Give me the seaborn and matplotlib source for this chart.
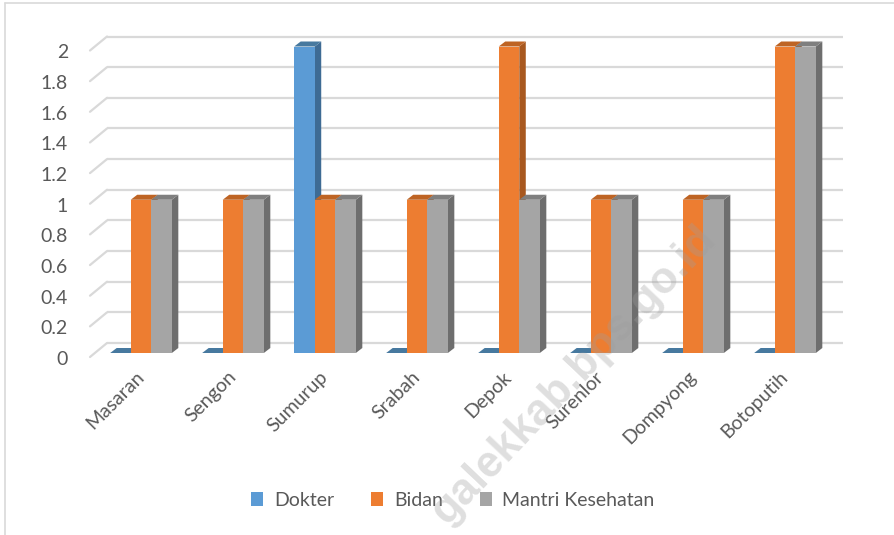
import matplotlib
matplotlib.use("Agg")
import matplotlib.pyplot as plt
import seaborn as sns
import pandas as pd
from matplotlib.transforms import ScaledTranslation, IdentityTransform
from matplotlib.patches import Polygon, Patch
from matplotlib.lines import Line2D

categories = ["Masaran", "Sengon", "Sumurup", "Srabah", "Depok", "Surenlor", "Dompyong", "Botoputih"]
series = ["Dokter", "Bidan", "Mantri Kesehatan"]
dokter = [0, 0, 2, 0, 0, 0, 0, 0]
bidan = [1, 1, 1, 1, 2, 1, 1, 2]
mantri = [1, 1, 1, 1, 1, 1, 1, 2]
yticks = [0, 0.2, 0.4, 0.6, 0.8, 1, 1.2, 1.4, 1.6, 1.8, 2]
ytick_labels = ["0", "0.2", "0.4", "0.6", "0.8", "1", "1.2", "1.4", "1.6", "1.8", "2"]

colors = ["#5B9BD5", "#ED7D31", "#A5A5A5"]
side_colors = ["#3E6B94", "#A8581F", "#6E6E6E"]
top_colors = ["#47799F", "#BE6424", "#7F7F7F"]

rows = []
for name, vals in zip(series, [dokter, bidan, mantri]):
    for c, v in zip(categories, vals):
        rows.append({"Desa": c, "Jenis": name, "Jumlah": v})
df = pd.DataFrame(rows)

sns.set_theme(style="white")
plt.rcParams["font.family"] = ["Lato", "DejaVu Sans"]

W, H, DPI = 894, 535, 100
FS = 14
fig = plt.figure(figsize=(W / DPI, H / DPI), dpi=DPI)
ax = fig.add_axes([95 / W, (H - 353) / H, 736 / W, (353 - 46.5) / H])

sns.barplot(data=df, x="Desa", y="Jumlah", hue="Jenis", order=categories,
            hue_order=series, palette=colors, width=0.67, gap=0,
            saturation=1, ax=ax, legend=False, edgecolor="none", linewidth=0)
ax.set_xlim(-0.5, 7.5)
ax.set_ylim(0, 2)
for s in ax.spines.values():
    s.set_visible(False)
ax.set_xlabel("")
ax.set_ylabel("")
ax.set_facecolor("none")

def off(dx, dy):
    return ax.transData + ScaledTranslation(dx / DPI, dy / DPI, fig.dpi_scale_trans)

fig.canvas.draw()

# back wall gridlines + side diagonals
for v in yticks:
    ax.plot([-0.5, 7.5], [v, v], color="#D9D9D9", lw=1.6, transform=off(12, 10),
            clip_on=False, zorder=0.5, solid_capstyle="butt")
    p0 = ax.transData.transform((-0.5, v)) + [-5, -4]
    p1 = ax.transData.transform((-0.5, v)) + [12, 10]
    ax.add_line(Line2D([p0[0], p1[0]], [p0[1], p1[1]], color="#D9D9D9", lw=1.6,
                       transform=IdentityTransform(), clip_on=False, zorder=0.5))

# 3D bar sides and tops
DX, DY = 6.5, 5
bars = list(ax.patches)
nper = len(categories)
for i, b in enumerate(bars):
    si = i // nper
    x0, y0 = b.get_x(), b.get_y()
    x1, y1 = x0 + b.get_width(), y0 + b.get_height()
    (px0, py0) = ax.transData.transform((x0, y0))
    (px1, py1) = ax.transData.transform((x1, y1))
    top = [(px0, py1), (px1, py1), (px1 + DX, py1 + DY), (px0 + DX, py1 + DY)]
    side = [(px1, py0), (px1, py1), (px1 + DX, py1 + DY), (px1 + DX, py0 + DY)]
    z = 3 + si * 0.1
    for pts, col in [(side, side_colors[si]), (top, top_colors[si])]:
        ax.add_patch(Polygon(pts, closed=True, facecolor=col, edgecolor="none",
                             transform=IdentityTransform(), clip_on=False, zorder=z))
    b.set_zorder(z + 0.05)

# y tick labels
ax.set_yticks(yticks)
ax.set_yticklabels(ytick_labels)
ax.tick_params(axis="y", length=0, pad=19.5, labelsize=FS, labelcolor="#595959")
for lab in ax.get_yticklabels():
    lab.set_transform(lab.get_transform() + ScaledTranslation(0, -5 / DPI, fig.dpi_scale_trans))

# x tick labels
ax.set_xticks(range(len(categories)))
ax.set_xticklabels(categories, rotation=45, ha="right", rotation_mode="anchor")
ax.tick_params(axis="x", length=0, pad=11, labelsize=FS, labelcolor="#595959")
for lab in ax.get_xticklabels():
    lab.set_transform(lab.get_transform() + ScaledTranslation(-6 / DPI, 0, fig.dpi_scale_trans))

# legend
handles = [Patch(facecolor=c, edgecolor="none") for c in colors]
fig.legend(handles, series, loc="center", bbox_to_anchor=(453 / W, 1 - 500 / H),
           ncol=3, frameon=False, fontsize=FS, labelcolor="#595959",
           handlelength=0.62, handleheight=0.7, handletextpad=0.55, columnspacing=1.9)

# chart border (top and left visible)
fig.add_artist(Line2D([5 / W, 1.0], [1 - 3 / H, 1 - 3 / H], color="#D9D9D9", lw=1.2,
                      transform=fig.transFigure))
fig.add_artist(Line2D([5 / W, 5 / W], [0, 1 - 3 / H], color="#D9D9D9", lw=1.2,
                      transform=fig.transFigure))

# watermark
fig.text(574 / W, 1 - 375 / H, "galekkab.bps.go.id", rotation=46.5, ha="center", va="center",
         fontsize=31.5, fontweight="bold", color="#9E9E9E", alpha=0.33, zorder=10,
         family=["Liberation Sans", "DejaVu Sans"])

fig.savefig("out.png", dpi=DPI)
